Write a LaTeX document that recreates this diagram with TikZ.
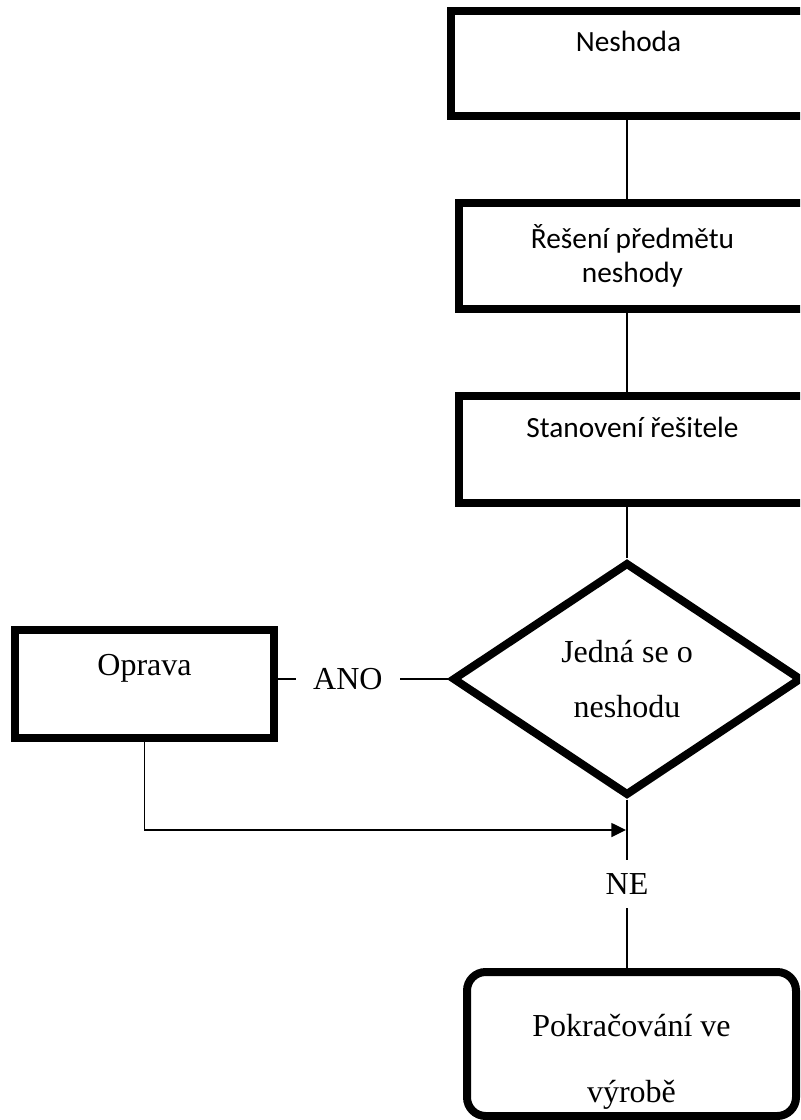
\documentclass[tikz,border=0pt]{standalone}
\usepackage{fontspec}
\setmainfont{Liberation Serif}
\newfontfamily\calibrifont{Carlito}
\usetikzlibrary{shapes.geometric,arrows.meta}

\begin{document}
\begin{tikzpicture}[x=0.75pt,y=-0.75pt,
  thickbox/.style={draw, line width=6pt, rectangle, inner sep=0pt, align=center},
  sansbox/.style={thickbox, font=\calibrifont\fontsize{22}{25}\selectfont},
  serifbox/.style={thickbox, font=\fontsize{24}{28}\selectfont},
  decision/.style={draw, line width=6pt, diamond, inner sep=0pt, align=center,
    font=\fontsize{24}{41}\selectfont},
  endbox/.style={draw, line width=6pt, rectangle, rounded corners=14pt, inner sep=0pt,
    align=center, font=\fontsize{24}{49.5}\selectfont},
  link/.style={line width=1.1pt},
  flowlabel/.style={fill=white, font=\fontsize{24}{28}\selectfont,
    inner xsep=12.75pt, inner ysep=10pt},
]
\useasboundingbox (0,0) rectangle (800,1120);
\begin{scope}
\clip (0,0) rectangle (800,1120);

% process boxes (their right sides run past the page edge)
\node[sansbox, minimum width=266.25pt, minimum height=78.75pt,
      text height=14pt, text depth=31.25pt] (b1) at (628.5,63.5) {Neshoda};
\node[sansbox, minimum width=260.25pt, minimum height=79.5pt]
      (b2) at (632.5,256) {Řešení předmětu\\neshody};
\node[sansbox, minimum width=260.25pt, minimum height=80.25pt,
      text height=14pt, text depth=32.75pt] (b3) at (632.5,449.5) {Stanovení řešitele};

% decision
\node[decision, minimum width=262pt, minimum height=175pt]
      (dia) at (627,679) {Jedná se o\\neshodu};

% repair branch
\node[serifbox, minimum width=194.25pt, minimum height=81pt,
      text height=14pt, text depth=27.5pt] (b5) at (144.5,684) {Oprava};

% end
\node[endbox, minimum width=246.75pt, minimum height=108pt]
      (b6) at (631.5,1044) {\rule{0pt}{43pt}Pokračování ve\\výrobě};

% connectors
\coordinate (spine) at (627,0);
\coordinate (join) at (626,830);
\draw[link] (b1.south -| spine) -- (b2.north -| spine);
\draw[link] (b2.south -| spine) -- (b3.north -| spine);
\draw[link] (b3.south -| spine) -- (dia.north);
\draw[link] (dia.west) -- (b5.east |- dia.west)
      node[flowlabel, pos=0.59] (ano) {ANO};
\draw[link] (dia.south) -- (dia.south |- b6.north)
      node[flowlabel, midway] (ne) {NE};
\draw[link, -{Triangle[length=11pt,width=10.5pt]}] (b5.south) |- (join);
\end{scope}
\end{tikzpicture}
\end{document}
